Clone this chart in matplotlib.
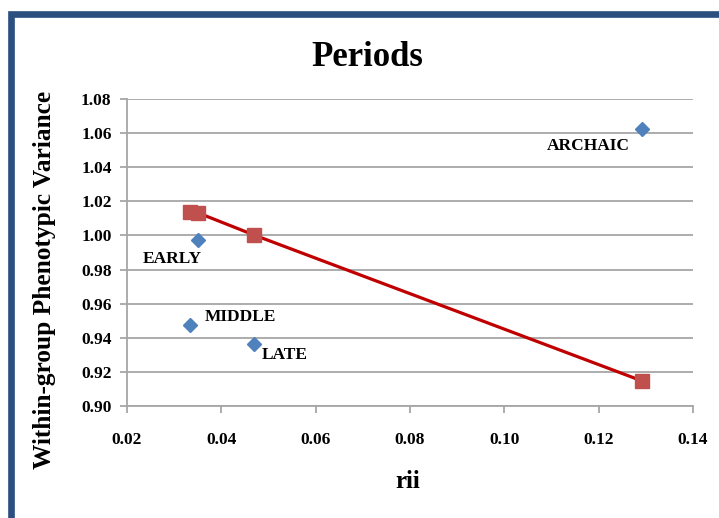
import matplotlib.pyplot as plt
from matplotlib.patches import Rectangle

plt.rcParams['font.family'] = ['Liberation Serif', 'DejaVu Serif']
plt.rcParams['font.weight'] = 'bold'

periods = ['ARCHAIC', 'EARLY', 'MIDDLE', 'LATE']
rii = [0.1292, 0.0351, 0.0334, 0.0469]
observed = [1.0624, 0.9973, 0.9475, 0.9364]
predicted = [0.9147, 1.0132, 1.0137, 1.0003]

label_offsets = {'ARCHAIC': (-39, -12), 'EARLY': (-19, -14), 'MIDDLE': (36, 5.5), 'LATE': (22, -8)}

fig = plt.figure(figsize=(7.19, 5.18), dpi=100)
ax = fig.add_axes([0.1766, 0.2162, 0.7872, 0.5927])

# frame around the chart
fig.patches.append(Rectangle((10.5 / 719, -0.003), 1.05, 1 - 13.5 / 518 + 0.003,
                             transform=fig.transFigure, fill=False,
                             edgecolor='#2b4f7f', linewidth=4.8, clip_on=False))

order = sorted(range(len(rii)), key=lambda i: rii[i])
ax.plot([rii[i] for i in order], [predicted[i] for i in order], color='#c00000', lw=2.3, zorder=3)
ax.plot(rii, predicted, 's', color='#c0504d', markersize=10.5, zorder=4)
ax.plot(rii, observed, 'D', color='#4f81bd', markersize=7.5, zorder=4)

for name, x, y in zip(periods, rii, observed):
    dx, dy = label_offsets[name]
    ax.annotate(name, (x, y), xytext=(dx, dy), textcoords='offset points',
                ha='center', va='center', fontsize=12.5, fontweight='bold')

ax.set_xlim(0.02, 0.14)
ax.set_ylim(0.90, 1.08)
ax.set_xticks([0.02, 0.04, 0.06, 0.08, 0.10, 0.12, 0.14])
ax.set_yticks([0.90 + 0.02 * k for k in range(10)])
ax.xaxis.set_major_formatter(plt.FormatStrFormatter('%.2f'))
ax.yaxis.set_major_formatter(plt.FormatStrFormatter('%.2f'))
ax.grid(axis='y', color='#a6a6a6', lw=1.3)
ax.set_axisbelow(True)
for s in ['top', 'right']:
    ax.spines[s].set_visible(False)
for s in ['left', 'bottom']:
    ax.spines[s].set_color('#a6a6a6')
    ax.spines[s].set_linewidth(1.3)
ax.tick_params(axis='both', colors='#a6a6a6', length=5, width=1.3, labelsize=12.5, labelcolor='black')
ax.tick_params(axis='x', pad=14)
ax.tick_params(axis='y', pad=6)

fig.text(367 / 719, 1 - 57 / 518, 'Periods', fontsize=25, fontweight='bold', ha='center', va='center')
fig.text(408 / 719, 1 - 481 / 518, 'rii', fontsize=18, fontweight='bold', ha='center', va='center')
fig.text(45 / 719, 1 - 280 / 518, 'Within-group Phenotypic Variance', fontsize=18.3,
         fontweight='bold', ha='center', va='center', rotation=90)

plt.savefig('out.png', dpi=100)
